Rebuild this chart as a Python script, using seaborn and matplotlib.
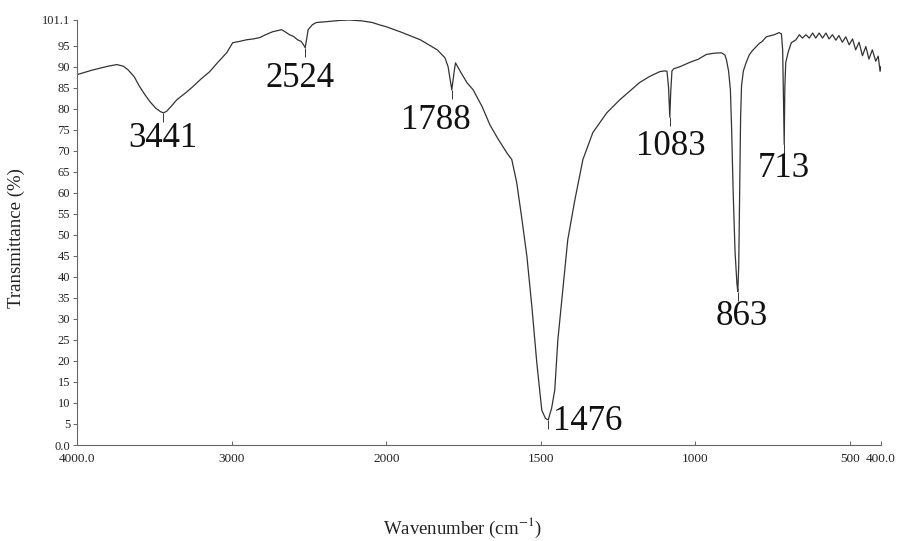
import numpy as np
import pandas as pd
import matplotlib
matplotlib.use("Agg")
import matplotlib.pyplot as plt
import seaborn as sns

# FTIR spectrum (wavenumber in cm^-1, transmittance in %)
wavenumber = [
    4000, 3900, 3800, 3742, 3700, 3671, 3630, 3594, 3560, 3529, 3490, 3460,
    3441, 3420, 3390, 3355, 3300, 3252, 3200, 3142, 3090, 3032, 2993, 2950,
    2903, 2860, 2819, 2780, 2735, 2700, 2677, 2650, 2626, 2600, 2574, 2550,
    2535, 2524, 2515, 2505, 2477, 2452, 2387, 2300, 2239, 2160, 2090, 2040,
    2000, 1955, 1890, 1835, 1810, 1800, 1788, 1780, 1776, 1760, 1739, 1719,
    1690, 1665, 1640, 1610, 1594, 1578, 1561, 1545, 1529, 1513, 1497, 1485,
    1476, 1465, 1455, 1445, 1429, 1413, 1390, 1364, 1332, 1287, 1245, 1181,
    1150, 1116, 1100, 1092, 1087, 1083, 1080, 1076, 1070, 1050, 1019, 990,
    965, 940, 916, 905, 900, 893, 887, 883, 878, 872, 866, 863, 860, 857,
    854, 851, 845, 836, 826, 816, 794, 784, 771, 745, 730, 722, 718, 716,
    713, 711, 708, 700, 690, 675, 664, 654, 643, 632, 621, 611, 600, 589,
    578, 568, 557, 546, 536, 525, 514, 503, 492, 482, 471, 460, 449, 439,
    428, 417, 409, 403, 400,
]
transmittance = [
    88.1, 89.2, 90.1, 90.5, 90.1, 89.3, 87.6, 85.2, 83.3, 81.7, 80.1, 79.3,
    79.0, 79.4, 80.6, 82.1, 83.7, 85.2, 87.0, 88.8, 91.0, 93.3, 95.7, 96.0,
    96.4, 96.6, 96.9, 97.6, 98.3, 98.6, 98.8, 98.2, 97.6, 97.2, 96.4, 96.0,
    95.2, 94.5, 96.5, 98.8, 100.0, 100.5, 100.7, 101.0, 101.1, 100.9, 100.5, 99.9,
    99.5, 98.3, 96.4, 94.0, 92.1, 90.0, 84.5, 89.0, 90.9, 88.8, 86.2, 84.5,
    80.5, 76.2, 73.0, 69.5, 67.9, 62.4, 53.6, 44.8, 32.9, 19.5, 8.3, 6.3,
    6.0, 8.8, 13.1, 25.0, 36.9, 48.8, 58.3, 67.9, 74.3, 79.0, 82.1, 86.2,
    87.6, 88.8, 89.0, 88.9, 85.0, 78.0, 84.0, 89.0, 89.5, 90.0, 91.0, 91.8,
    92.9, 93.2, 93.3, 92.8, 91.7, 89.0, 84.5, 75.0, 60.0, 46.0, 38.5, 36.5,
    43.0, 60.0, 78.0, 85.5, 89.0, 91.0, 92.8, 93.8, 95.5, 96.0, 97.1, 97.6,
    98.1, 97.8, 94.0, 85.0, 71.5, 85.0, 91.0, 93.5, 95.7, 96.4, 97.6, 96.8,
    97.6, 96.8, 98.0, 96.8, 98.0, 96.8, 98.0, 96.6, 97.6, 96.3, 97.4, 95.8,
    97.1, 95.2, 96.6, 94.0, 95.8, 92.6, 94.8, 91.8, 94.0, 91.3, 92.5, 88.9,
    90.1,
]

# Picked absorption bands
peak_wn = [3441, 2524, 1788, 1476, 1083, 863, 713]
peak_t = [79.0, 94.5, 84.5, 6.0, 78.0, 36.5, 71.5]
# label placement relative to each band minimum (pixels)
label_offsets = [(-1, -34), (-5, -39), (-16, -39), (39, -10), (1, -38), (4, -33), (0, -33)]

x_ticks = [4000, 3000, 2000, 1500, 1000, 500, 400]
x_tick_labels = ["4000.0", "3000", "2000", "1500", "1000", "500", "400.0"]
y_ticks = [0, 5, 10, 15, 20, 25, 30, 35, 40, 45, 50, 55, 60, 65, 70, 75, 80, 85, 90, 95, 101.1]
y_tick_labels = ["0.0"] + [str(v) for v in y_ticks[1:-1]] + ["101.1"]

sns.set_theme(style="ticks")
plt.rcParams["font.family"] = ["Liberation Serif", "DejaVu Serif"]
plt.rcParams["mathtext.fontset"] = "stix"

df = pd.DataFrame({"wavenumber": wavenumber, "transmittance": transmittance})

fig = plt.figure(figsize=(8.97, 5.41), dpi=100)
ax = fig.add_axes([77 / 897, 96 / 541, 804 / 897, 425 / 541])


# Wavenumber axis is expanded 2x below 2000 cm^-1
def _fwd(x):
    x = np.asarray(x, dtype=float)
    return np.where(x >= 2000, x, 2 * x - 2000)


def _inv(u):
    u = np.asarray(u, dtype=float)
    return np.where(u >= 2000, u, (u + 2000) / 2)


ax.set_xscale("function", functions=(_fwd, _inv))

line_color = "#333333"
sns.lineplot(data=df, x="wavenumber", y="transmittance", ax=ax, color=line_color,
             linewidth=0.9, estimator=None, sort=False)

# short peak-marker ticks under each picked band
ax.vlines(peak_wn, np.array(peak_t) - 2.2, peak_t, color=line_color, linewidth=0.7)

for wn, t, (dx, dy) in zip(peak_wn, peak_t, label_offsets):
    ax.annotate(str(wn), xy=(wn, t), xytext=(dx, dy), textcoords="offset pixels",
                ha="center", va="baseline", fontsize=25, color="#111111")

ax.set_xlim(4000, 400)
ax.set_ylim(0, 101.1)
ax.set_xticks(x_ticks)
ax.set_xticklabels(x_tick_labels)
ax.set_yticks(y_ticks)
ax.set_yticklabels(y_tick_labels)
ax.minorticks_off()

for side in ("top", "right"):
    ax.spines[side].set_visible(False)
for side in ("left", "bottom"):
    ax.spines[side].set_color("#666666")
    ax.spines[side].set_linewidth(0.8)

ax.tick_params(axis="x", direction="in", length=3, width=0.7, pad=6,
               labelsize=9.5, color="#666666", labelcolor="#222222")
ax.tick_params(axis="y", direction="out", length=3, width=0.7, pad=2,
               labelsize=9, color="#666666", labelcolor="#222222")

ax.set_xlabel("Wavenumber (cm$^{-1}$)", fontsize=13.5, color="#222222")
ax.set_ylabel("Transmittance (%)", fontsize=13.5, color="#222222")
ax.xaxis.set_label_coords(0.479, -0.166)
ax.yaxis.set_label_coords(-0.065, 0.487)

fig.savefig("out.png", dpi=100, facecolor="white")
